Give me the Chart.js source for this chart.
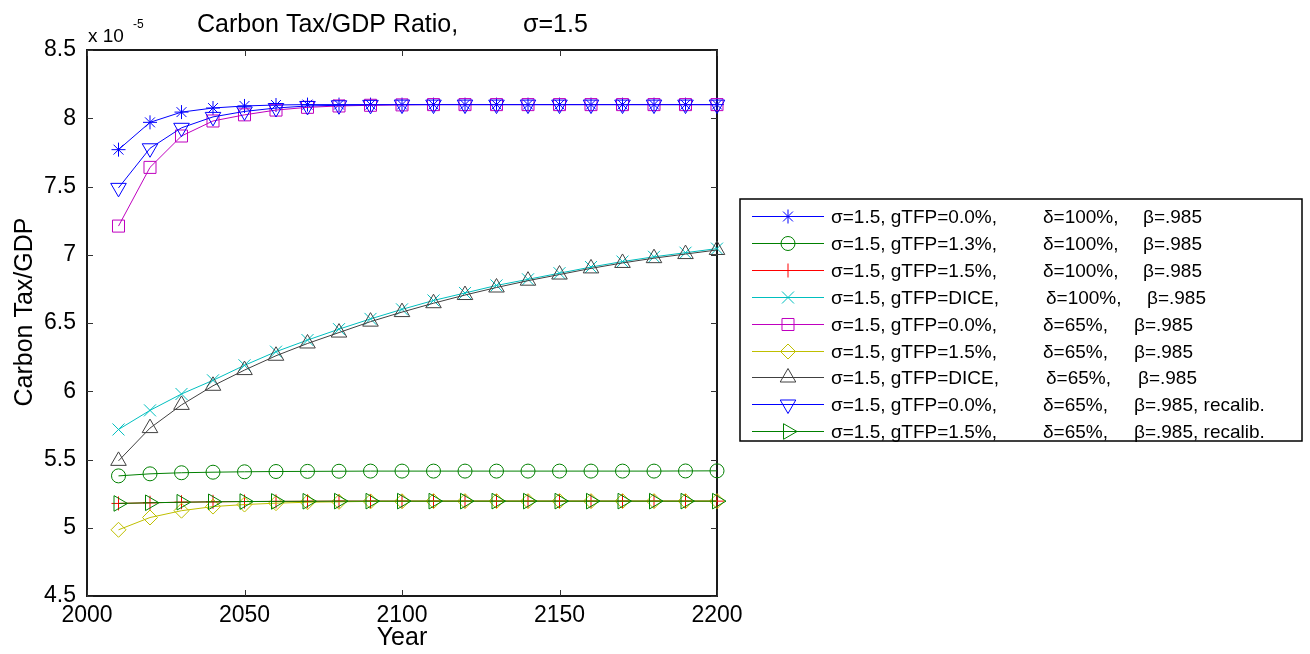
<!DOCTYPE html>
<html>
<head>
<meta charset="utf-8">
<script src="https://cdn.jsdelivr.net/npm/chart.js@4.4.1/dist/chart.umd.min.js"></script>
<style>
html,body{margin:0;padding:0;background:#fff;}
#wrap{width:1310px;height:654px;position:relative;}
</style>
</head>
<body>
<div id="wrap"><canvas id="c" width="1310" height="654"></canvas></div>
<script>
// ---- data (values in units of 1e-5) ----
const years = [2010,2020,2030,2040,2050,2060,2070,2080,2090,2100,2110,2120,2130,2140,2150,2160,2170,2180,2190,2200];
const tfp00_d100 = [7.77,7.97,8.045,8.075,8.09,8.097,8.1,8.1,8.1,8.1,8.1,8.1,8.1,8.1,8.1,8.1,8.1,8.1,8.1,8.1];
const tfp13_d100 = [5.38,5.395,5.403,5.407,5.41,5.412,5.413,5.414,5.415,5.415,5.415,5.415,5.415,5.415,5.415,5.415,5.415,5.415,5.416,5.417];
const tfp15_d100 = [5.178,5.183,5.187,5.19,5.192,5.193,5.194,5.195,5.195,5.195,5.195,5.195,5.195,5.195,5.195,5.195,5.195,5.195,5.195,5.195];
const dice_d100  = [5.72,5.86,5.98,6.08,6.19,6.29,6.375,6.455,6.53,6.60,6.665,6.72,6.775,6.82,6.865,6.91,6.95,6.985,7.015,7.045];
const tfp00_d65  = [7.21,7.64,7.87,7.98,8.025,8.06,8.08,8.09,8.095,8.098,8.1,8.1,8.1,8.1,8.1,8.1,8.1,8.1,8.1,8.1];
const tfp15_d65  = [4.985,5.075,5.125,5.155,5.17,5.18,5.187,5.19,5.193,5.194,5.195,5.195,5.195,5.195,5.195,5.195,5.195,5.195,5.195,5.195];
const dice_d65   = [5.49,5.73,5.90,6.04,6.155,6.26,6.35,6.43,6.51,6.58,6.645,6.705,6.76,6.81,6.855,6.90,6.94,6.975,7.005,7.035];
const tfp00_rec  = [7.49,7.78,7.93,8.01,8.05,8.075,8.09,8.095,8.098,8.1,8.1,8.1,8.1,8.1,8.1,8.1,8.1,8.1,8.1,8.1];
const tfp15_rec  = [5.178,5.183,5.187,5.19,5.192,5.193,5.194,5.195,5.195,5.195,5.195,5.195,5.195,5.195,5.195,5.195,5.195,5.195,5.195,5.195];

const seriesValues = [tfp00_d100, tfp13_d100, tfp15_d100, dice_d100, tfp00_d65, tfp15_d65, dice_d65, tfp00_rec, tfp15_rec];

// legend text parts
const labelPart1 = ["σ=1.5, gTFP=0.0%,","σ=1.5, gTFP=1.3%,","σ=1.5, gTFP=1.5%,","σ=1.5, gTFP=DICE,","σ=1.5, gTFP=0.0%,","σ=1.5, gTFP=1.5%,","σ=1.5, gTFP=DICE,","σ=1.5, gTFP=0.0%,","σ=1.5, gTFP=1.5%,"];
const labelPart2 = ["δ=100%,","δ=100%,","δ=100%,","δ=100%,","δ=65%,","δ=65%,","δ=65%,","δ=65%,","δ=65%,"];
const labelPart3 = ["β=.985","β=.985","β=.985","β=.985","β=.985","β=.985","β=.985","β=.985, recalib.","β=.985, recalib."];

const xTickMin = 2000, xTickMax = 2200, xTickStep = 50;
const yTickMin = 4.5, yTickMax = 8.5, yTickStep = 0.5;
const titleParts = ["Carbon Tax/GDP Ratio,", "σ=1.5"];
const yAxisTitle = "Carbon Tax/GDP";
const xAxisTitle = "Year";

// ---- styles ----
const colors = ['#0000FF','#008000','#FF0000','#00BFBF','#BF00BF','#BFBF00','#404040','#0000FF','#008000'];
const pStyles = ['star','circle','cross','crossRot','rect','rectRot','triangle','triangle','triangle'];
const pRot = [0,0,0,0,0,0,0,180,90];
const pRad = [7,7,7,8.5,8.5,7.5,9,9,9];

const FONT = '"Liberation Sans", Arial, Helvetica, sans-serif';

const datasets = seriesValues.map((vals, i) => ({
  label: labelPart1[i] + ' ' + labelPart2[i] + ' ' + labelPart3[i],
  data: years.map((yr, k) => ({x: yr, y: vals[k]})),
  borderColor: colors[i],
  backgroundColor: 'rgba(0,0,0,0)',
  pointBorderColor: colors[i],
  pointBackgroundColor: 'rgba(0,0,0,0)',
  pointStyle: pStyles[i],
  pointRotation: pRot[i],
  pointRadius: pRad[i],
  pointHoverRadius: pRad[i],
  pointBorderWidth: 1,
  borderWidth: 1,
  tension: 0,
  fill: false,
  clip: false,
  order: seriesValues.length - i
}));

const PLOT = {left: 87, right: 717, top: 50, bottom: 596};

const frame = {
  id: 'frame',
  beforeDatasetsDraw(chart) {
    const ctx = chart.ctx;
    const a = chart.chartArea;
    const xs = chart.scales.x, ys = chart.scales.y;
    ctx.save();
    ctx.strokeStyle = '#1a1a1a';
    ctx.lineWidth = 2;
    ctx.strokeRect(a.left, a.top, a.right - a.left, a.bottom - a.top);
    ctx.lineWidth = 1;
    ctx.strokeStyle = '#333';
    const tl = 6;
    ctx.beginPath();
    for (let v = xTickMin; v <= xTickMax; v += xTickStep) {
      const px = Math.round(xs.getPixelForValue(v)) + 0.5;
      ctx.moveTo(px, a.bottom); ctx.lineTo(px, a.bottom - tl);
      ctx.moveTo(px, a.top); ctx.lineTo(px, a.top + tl);
    }
    for (let v = yTickMin; v <= yTickMax + 1e-9; v += yTickStep) {
      const py = Math.round(ys.getPixelForValue(v)) + 0.5;
      ctx.moveTo(a.left, py); ctx.lineTo(a.left + tl, py);
      ctx.moveTo(a.right, py); ctx.lineTo(a.right - tl, py);
    }
    ctx.stroke();
    ctx.restore();
  },
  afterDraw(chart) {
    const ctx = chart.ctx;
    ctx.save();
    ctx.fillStyle = '#000';
    // title
    ctx.font = '25px ' + FONT;
    ctx.textBaseline = 'alphabetic';
    ctx.textAlign = 'left';
    ctx.fillText(titleParts[0], 197, 32);
    ctx.fillText(titleParts[1], 523, 32);
    // exponent
    ctx.font = '19px ' + FONT;
    ctx.fillText('x 10', 88, 42);
    ctx.font = '12px ' + FONT;
    ctx.fillText('-5', 133, 28);
    // axis titles
    ctx.font = '25px ' + FONT;
    ctx.textAlign = 'center';
    ctx.fillText(xAxisTitle, 402, 645);
    ctx.save();
    ctx.translate(32, 312);
    ctx.rotate(-Math.PI / 2);
    ctx.fillText(yAxisTitle, 0, 0);
    ctx.restore();

    // legend
    const bx = 740, by = 199, bw = 562, bh = 242;
    ctx.fillStyle = '#fff';
    ctx.fillRect(bx, by, bw, bh);
    ctx.strokeStyle = '#000';
    ctx.lineWidth = 1.5;
    ctx.strokeRect(bx, by, bw, bh);
    const rowH = 26.9;
    ctx.font = '19px ' + FONT;
    ctx.textAlign = 'left';
    ctx.textBaseline = 'middle';
    for (let i = 0; i < seriesValues.length; i++) {
      const y = Math.round(216 + rowH * i) + 0.5;
      ctx.strokeStyle = colors[i];
      ctx.lineWidth = 1;
      ctx.beginPath();
      ctx.moveTo(752, y); ctx.lineTo(824, y);
      ctx.stroke();
      ctx.fillStyle = 'rgba(0,0,0,0)';
      ctx.strokeStyle = colors[i];
      Chart.helpers.drawPoint(ctx, {pointStyle: pStyles[i], rotation: pRot[i], radius: pRad[i], borderWidth: 1}, 788, y);
      ctx.fillStyle = '#000';
      const isDice = labelPart1[i].indexOf('DICE') >= 0;
      const is100 = labelPart2[i].indexOf('100') >= 0;
      const x2 = 1043 + (isDice ? 3 : 0);
      const x3 = (is100 ? 1143 : 1134) + (isDice ? 4 : 0);
      ctx.fillText(labelPart1[i], 831, y + 1);
      ctx.fillText(labelPart2[i], x2, y + 1);
      ctx.fillText(labelPart3[i], x3, y + 1);
    }
    ctx.restore();
  }
};

new Chart(document.getElementById('c'), {
  type: 'line',
  data: { datasets },
  options: {
    responsive: false,
    animation: false,
    devicePixelRatio: 1,
    layout: { padding: { left: 0, top: PLOT.top, right: 1310 - PLOT.right, bottom: 0 } },
    plugins: { legend: { display: false }, title: { display: false }, tooltip: { enabled: false } },
    events: [],
    scales: {
      x: {
        type: 'linear',
        min: xTickMin, max: xTickMax,
        grid: { display: false, drawTicks: false },
        border: { display: false },
        ticks: {
          stepSize: xTickStep, autoSkip: false, maxRotation: 0,
          color: '#000', font: { family: FONT, size: 23 }, padding: 6,
          callback: v => String(v)
        },
        afterFit: s => { s.height = 654 - PLOT.bottom; }
      },
      y: {
        type: 'linear',
        min: yTickMin, max: yTickMax,
        grid: { display: false, drawTicks: false },
        border: { display: false },
        ticks: {
          stepSize: yTickStep, autoSkip: false,
          color: '#000', font: { family: FONT, size: 23 }, padding: 11,
          callback: v => String(Math.round(v * 10) / 10)
        },
        afterFit: s => { s.width = PLOT.left; }
      }
    }
  },
  plugins: [frame]
});
</script>
</body>
</html>
